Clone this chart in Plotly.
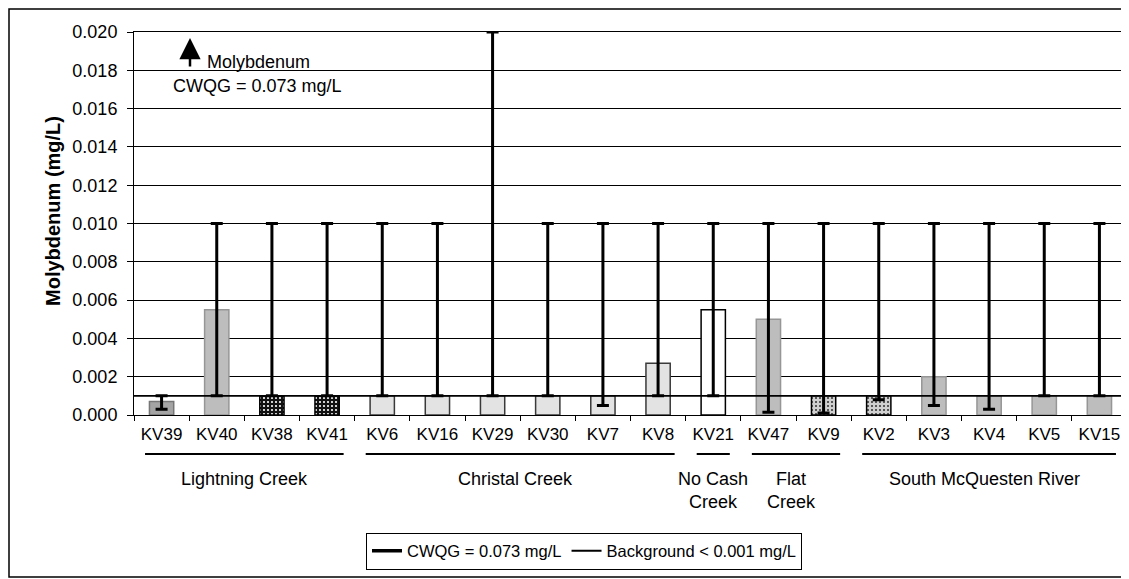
import plotly.graph_objects as go

# ---- data ----
sites = ["KV39", "KV40", "KV38", "KV41", "KV6", "KV16", "KV29", "KV30", "KV7",
         "KV8", "KV21", "KV47", "KV9", "KV2", "KV3", "KV4", "KV5", "KV15"]
mo_mean = [0.0007, 0.0055, 0.001, 0.001, 0.001, 0.001, 0.001, 0.001, 0.001,
           0.0027, 0.0055, 0.005, 0.001, 0.001, 0.002, 0.001, 0.001, 0.001]
mo_max = [0.001, 0.010, 0.010, 0.010, 0.010, 0.010, 0.020, 0.010, 0.010,
          0.010, 0.010, 0.010, 0.010, 0.010, 0.010, 0.010, 0.010, 0.010]
mo_min = [0.0003, 0.001, 0.001, 0.001, 0.001, 0.001, 0.001, 0.001, 0.0005,
          0.001, 0.001, 0.00015, 0.0001, 0.0008, 0.0005, 0.0003, 0.001, 0.001]
group_names = ["Lightning Creek", "Christal Creek", "No Cash<br>Creek",
               "Flat<br>Creek", "South McQuesten River"]
group_sizes = [4, 6, 1, 2, 5]
cwqg = 0.073
background = 0.001
y_ticks = [0.000, 0.002, 0.004, 0.006, 0.008, 0.010, 0.012, 0.014, 0.016, 0.018, 0.020]

# ---- styles ----
shade = ["gray_dark", "gray", "speck_black", "speck_black", "light", "light",
         "light", "light", "light", "light", "white", "gray", "speck_light",
         "speck_light", "gray", "gray", "gray", "gray"]
style = {
    "gray_dark": dict(fill="#a4a4a4", line="#767676", pat="", fg=None, bg=None),
    "gray": dict(fill="#bdbdbd", line="#969696", pat="", fg=None, bg=None),
    "light": dict(fill="#e3e3e3", line="#3a3a3a", pat="", fg=None, bg=None),
    "white": dict(fill="#ffffff", line="#000000", pat="", fg=None, bg=None),
    "speck_black": dict(fill="#111111", line="#000000", pat=".", fg="#ffffff", bg="#111111"),
    "speck_light": dict(fill="#c8c8c8", line="#000000", pat=".", fg="#3a3a3a", bg="#d0d0d0"),
}

FONT = "Liberation Sans, Arial, sans-serif"
OFF = 8  # page body margin
W, H = 1129 - OFF, 579 - OFF
L, T = 134 - OFF, 32 - OFF
PW, PH = 993, 383
R, B = W - L - PW, H - T - PH


def px(xpage):
    return (xpage - OFF - L) / PW


def py(ypage):
    return (T + PH - (ypage - OFF)) / PH


fig = go.Figure()
for key, st in style.items():
    idx = [i for i, s in enumerate(shade) if s == key]
    if not idx:
        continue
    xs = [sites[i] for i in idx]
    ys = [mo_mean[i] for i in idx]
    ep = [mo_max[i] - mo_mean[i] for i in idx]
    em = [mo_mean[i] - mo_min[i] for i in idx]
    marker = dict(color=st["fill"], line=dict(color=st["line"], width=1.5))
    if st["pat"]:
        marker["pattern"] = dict(shape=st["pat"], fgcolor=st["fg"], bgcolor=st["bg"],
                                 size=4, solidity=0.22, fillmode="replace")
    fig.add_trace(go.Bar(
        x=xs, y=ys, width=0.44, showlegend=False, marker=marker,
        error_y=dict(type="data", symmetric=False, array=ep, arrayminus=em,
                     color="black", thickness=3, width=6),
        hoverinfo="x+y",
    ))

fig.add_trace(go.Scatter(
    x=[0, 1], y=[cwqg, cwqg], xaxis="x2", mode="lines",
    line=dict(color="black", width=3.5), name="CWQG = 0.073 mg/L",
))
fig.add_trace(go.Scatter(
    x=[0, 1], y=[background, background], xaxis="x2", mode="lines",
    line=dict(color="black", width=1.8), name="Background < 0.001 mg/L",
))

n = len(sites)
shapes = []
annotations = []
start = 0
under_y = py(454)
lab_y = py(467)
for name, size in zip(group_names, group_sizes):
    end = start + size - 1
    x0 = (start + 0.5 - 0.3) / n
    x1 = (end + 0.5 + 0.3) / n
    shapes.append(dict(type="line", xref="paper", yref="paper", x0=x0, x1=x1,
                       y0=under_y, y1=under_y, line=dict(color="black", width=2)))
    annotations.append(dict(xref="paper", yref="paper",
                            x=((start + end + 1) / 2 - 0.08 * (size > 1) * (start > 0)) / n,
                            y=lab_y, text=name, showarrow=False,
                            xanchor="center", yanchor="top",
                            font=dict(family=FONT, size=18, color="black"),
                            align="center"))
    start = end + 1

# outer frame
shapes.append(dict(type="rect", xref="paper", yref="paper",
                   x0=px(OFF + 1), x1=px(1128),
                   y0=py(577), y1=py(OFF + 1),
                   line=dict(color="black", width=1.5), fillcolor="rgba(0,0,0,0)",
                   layer="below"))

# arrow and CWQG note
annotations.append(dict(xref="paper", yref="paper", x=px(190), y=py(38),
                        ax=0, ay=30, text="", showarrow=True,
                        arrowhead=2, arrowsize=1.7, arrowwidth=2.5, arrowcolor="black"))
annotations.append(dict(xref="paper", yref="paper", x=px(205), y=py(62),
                        text="Molybdenum", showarrow=False,
                        xanchor="left", yanchor="middle",
                        font=dict(family=FONT, size=18, color="black")))
annotations.append(dict(xref="paper", yref="paper", x=px(171), y=py(86),
                        text="CWQG = 0.073 mg/L", showarrow=False,
                        xanchor="left", yanchor="middle",
                        font=dict(family=FONT, size=18, color="black")))

fig.update_layout(
    width=W, height=H,
    margin=dict(l=L, r=R, t=T, b=B, pad=0),
    paper_bgcolor="white", plot_bgcolor="white",
    font=dict(family=FONT, size=16, color="black"),
    barmode="overlay",
    xaxis=dict(type="category", categoryorder="array", categoryarray=sites,
               showline=True, linecolor="black", linewidth=1,
               mirror=True, ticks="outside", tickson="boundaries", ticklen=5,
               tickcolor="black", showgrid=False, ticklabelstandoff=4,
               tickfont=dict(family=FONT, size=17, color="black")),
    xaxis2=dict(overlaying="x", range=[0, 1], visible=False, fixedrange=True),
    yaxis=dict(range=[0, 0.020], tickvals=y_ticks, tickformat=".3f",
               showgrid=True, gridcolor="black", gridwidth=1, zeroline=False,
               showline=True, linecolor="black", linewidth=1, mirror=True,
               ticks="outside", ticklen=6, tickcolor="black",
               ticklabelstandoff=6,
               tickfont=dict(family=FONT, size=18, color="black")),
    legend=dict(orientation="h", x=px(584), xanchor="center",
                y=py(551), yanchor="middle",
                bordercolor="black", borderwidth=1, bgcolor="white",
                font=dict(family=FONT, size=16.5, color="black"),
                itemwidth=30, tracegroupgap=0),
    shapes=shapes, annotations=annotations,
)
# y-axis title as rotated annotation for exact placement
fig.add_annotation(xref="paper", yref="paper", x=px(53), y=py(211),
                   text="<b>Molybdenum (mg/L)</b>", textangle=-90, showarrow=False,
                   xanchor="center", yanchor="middle",
                   font=dict(family=FONT, size=20, color="black"))

fig.write_html("out.html")
